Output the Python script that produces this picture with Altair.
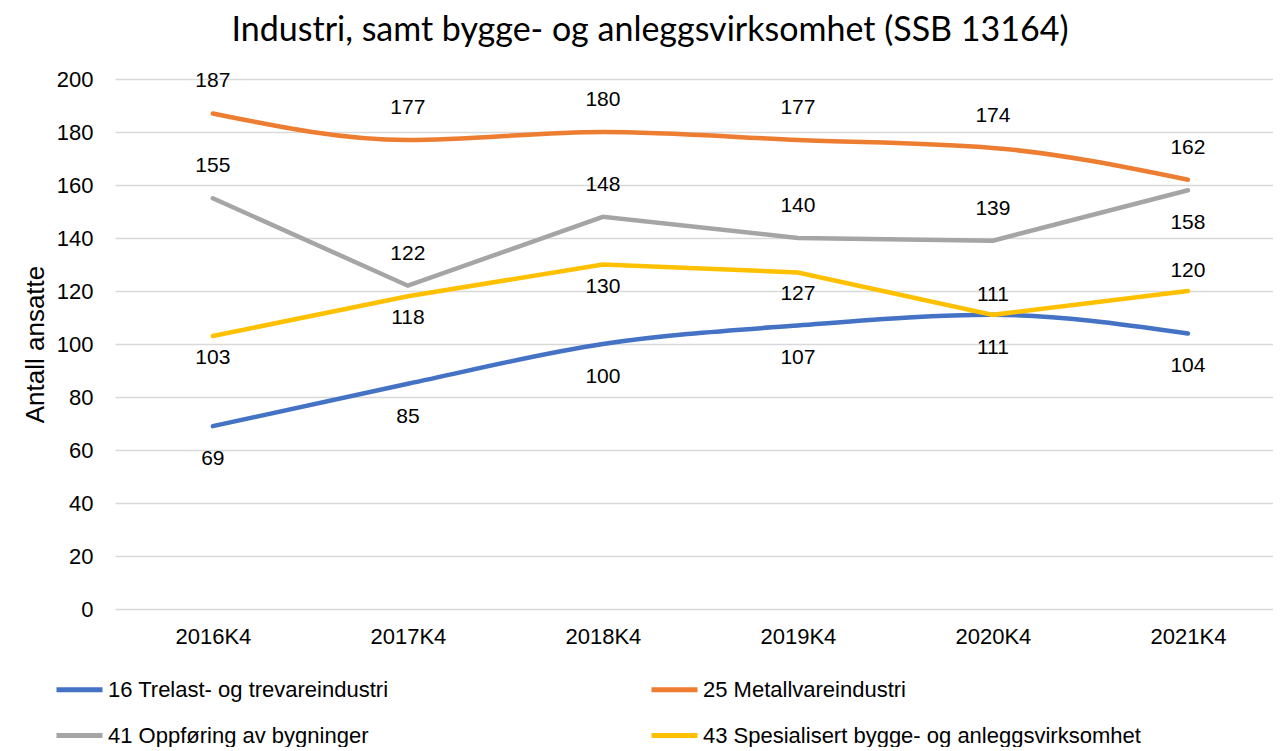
import altair as alt
import pandas as pd

periods = ["2016K4", "2017K4", "2018K4", "2019K4", "2020K4", "2021K4"]
series_names = [
    "16 Trelast- og trevareindustri",
    "25 Metallvareindustri",
    "41 Oppføring av bygninger",
    "43 Spesialisert bygge- og anleggsvirksomhet",
]
trelast = [69, 85, 100, 107, 111, 104]
metall = [187, 177, 180, 177, 174, 162]
oppforing = [155, 122, 148, 140, 139, 158]
spesialisert = [103, 118, 130, 127, 111, 120]
colors = ["#4472C4", "#ED7D31", "#A5A5A5", "#FFC000"]

values = [trelast, metall, oppforing, spesialisert]
rows = []
for name, vals in zip(series_names, values):
    for p, v in zip(periods, vals):
        rows.append({"serie": name, "periode": p, "verdi": v})
df = pd.DataFrame(rows)

# label placement (above/below the line), as in the original chart
below = {
    (series_names[0], p) for p in periods
} | {(series_names[2], "2021K4")} | {
    (series_names[3], p) for p in ["2016K4", "2017K4", "2018K4", "2019K4"]
}
df["below"] = [(s, p) in below for s, p in zip(df["serie"], df["periode"])]
df["yellow"] = df["serie"] == series_names[3]

FONT = "Liberation Sans"
PLOT_W = 1158

xscale = alt.Scale(type="point", padding=0.469, align=0.535)
x = alt.X("periode:N", sort=periods, title=None, scale=xscale,
          axis=alt.Axis(labelAngle=0, labelFontSize=22, labelFont=FONT,
                        labelColor="#000000", ticks=False, domain=False,
                        labelPadding=17, grid=False))
y = alt.Y("verdi:Q", title="Antall ansatte",
          scale=alt.Scale(domain=[0, 200], nice=False),
          axis=alt.Axis(values=list(range(0, 201, 20)), labelFontSize=22,
                        labelFont=FONT, labelColor="#000000", ticks=False,
                        domain=False, labelPadding=22, gridColor="#D9D9D9",
                        gridWidth=1.5, titleFontSize=26, titleFont=FONT,
                        titleFontWeight="normal", titleColor="#000000",
                        titlePadding=8))
color = alt.Color("serie:N", sort=series_names,
                  scale=alt.Scale(domain=series_names, range=colors),
                  legend=alt.Legend(title=None, orient="none", legendX=-61,
                                    legendY=585, columns=2, direction="horizontal",
                                    symbolType="stroke", symbolSize=2116,
                                    symbolStrokeWidth=5, labelFontSize=22,
                                    labelFont=FONT, labelColor="#000000",
                                    columnPadding=252, rowPadding=9,
                                    labelOffset=3, labelLimit=600))

base = alt.Chart(df)
smooth = base.transform_filter(
    alt.FieldOneOfPredicate(field="serie", oneOf=[series_names[0], series_names[1]])
).mark_line(strokeWidth=4.5, interpolate="monotone", strokeCap="round").encode(x=x, y=y, color=color)
straight = base.transform_filter(
    alt.FieldOneOfPredicate(field="serie", oneOf=[series_names[2], series_names[3]])
).mark_line(strokeWidth=4.5, interpolate="linear", strokeCap="round").encode(x=x, y=y, color=color)

def labels(is_below, is_yellow, dy):
    return base.transform_filter(
        (alt.datum.below == is_below) & (alt.datum.yellow == is_yellow)
    ).mark_text(fontSize=21, font=FONT, color="#000000", dy=dy).encode(
        x=alt.X("periode:N", sort=periods, scale=xscale), y="verdi:Q", text="verdi:Q")

chart = alt.layer(
    smooth, straight,
    labels(False, False, -32), labels(True, False, 33),
    labels(False, True, -20), labels(True, True, 22),
).properties(
    width=PLOT_W, height=530,
    title=alt.TitleParams("Industri, samt bygge- og anleggsvirksomhet (SSB 13164)",
                          fontSize=34, font="Lato",
                          fontWeight="normal", color="#000000", offset=20,
                          anchor="middle", dx=-44),
    padding={"left": 14, "top": 6, "right": 0, "bottom": 0},
).configure(background="#FFFFFF").configure_view(stroke=None)

chart.save("out.html", embed_options={"renderer": "svg", "actions": False})
